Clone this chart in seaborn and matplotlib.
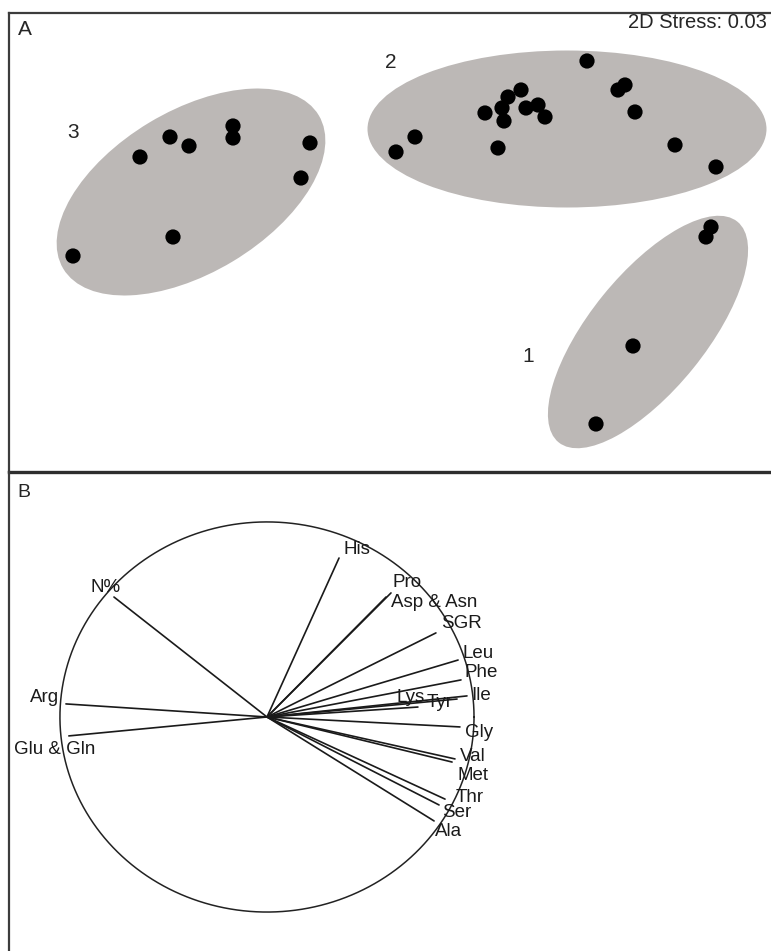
import numpy as np
import pandas as pd
import matplotlib
matplotlib.use("Agg")
import matplotlib.pyplot as plt
from matplotlib.patches import Ellipse
import seaborn as sns

# --- Panel A: nMDS ordination (coordinates) ---
group1_x = [3.16, 3.21, 2.43, 2.06]
group1_y = [0.03, 0.13, -1.06, -1.84]
group2_x = [0.06, 0.25, 0.95, 1.12, 1.14, 1.18, 1.31, 1.36, 1.48, 1.55, 1.08,
            1.97, 2.28, 2.35, 2.45, 2.85, 3.26]
group2_y = [0.88, 1.03, 1.27, 1.32, 1.19, 1.43, 1.50, 1.32, 1.35, 1.23, 0.92,
            1.79, 1.50, 1.55, 1.28, 0.95, 0.73]
group3_x = [-3.17, -2.50, -2.20, -2.01, -1.57, -1.57, -0.80, -0.89, -2.17]
group3_y = [-0.16, 0.83, 1.03, 0.94, 1.14, 1.02, 0.97, 0.62, 0.03]
group_names = ["1", "2", "3"]
stress = 0.03

# cluster ellipses: centre x, centre y, width, height, angle
ell_cx = [2.58, 1.77, -1.99]
ell_cy = [-0.92, 1.11, 0.48]
ell_w = [2.84, 3.99, 2.98]
ell_h = [1.16, 1.57, 1.62]
ell_ang = [51, 0, 31]

# --- Panel B: vector correlations ---
variables = ["His", "N%", "Pro", "Asp & Asn", "SGR", "Leu", "Phe", "Ile", "Lys",
             "Tyr", "Gly", "Val", "Met", "Thr", "Ser", "Ala", "Arg", "Glu & Gln"]
corr1 = [0.348, -0.739, 0.599, 0.575, 0.816, 0.923, 0.937, 0.966, 0.729,
         0.918, 0.932, 0.908, 0.894, 0.860, 0.831, 0.807, -0.971, -0.957]
corr2 = [0.815, 0.615, 0.636, 0.615, 0.431, 0.292, 0.190, 0.108, 0.051,
         0.092, -0.051, -0.215, -0.231, -0.421, -0.451, -0.533, 0.067, -0.097]

sns.set_style("white")
plt.rcParams["font.family"] = ["Liberation Sans", "DejaVu Sans"]

W, H = 771, 951
fig = plt.figure(figsize=(W / 100, H / 100), dpi=100)
frame_col = "#3c3c3c"

# panel A
axA = fig.add_axes([9 / W, (H - 472) / H, 770 / W, 459 / H])
axA.set_xlim(-3.81, 3.89)
axA.set_ylim(-2.32, 2.27)
for cx, cy, w, h, a in zip(ell_cx, ell_cy, ell_w, ell_h, ell_ang):
    axA.add_patch(Ellipse((cx, cy), w, h, angle=a, facecolor="#bcb8b6",
                          edgecolor="none", zorder=1))
pts = pd.DataFrame({
    "x": group1_x + group2_x + group3_x,
    "y": group1_y + group2_y + group3_y,
    "group": ["1"] * len(group1_x) + ["2"] * len(group2_x) + ["3"] * len(group3_x),
})
sns.scatterplot(data=pts, x="x", y="y", color="black", s=120,
                edgecolor="none", legend=False, ax=axA, zorder=3)
for name, (lx, ly) in zip(group_names, [(1.38, -1.16), (0.01, 1.78), (-3.17, 1.08)]):
    axA.text(lx, ly, name, fontsize=15, ha="center", va="center")
axA.text(0.0117, 0.963, "A", transform=axA.transAxes, fontsize=15,
         ha="left", va="center")
axA.text(0.984, 0.98, f"2D Stress: {stress:.2f}", transform=axA.transAxes,
         fontsize=14.5, ha="right", va="center")

# panel B
axB = fig.add_axes([9 / W, (H - 961) / H, 770 / W, 489 / H])
axB.patch.set_visible(False)
axB.set_xlim(-1.246, 2.473)
axB.set_ylim(-1.251, 1.256)
t = np.linspace(0, 2 * np.pi, 400)
axB.plot(np.cos(t), np.sin(t), color="#222222", lw=1.1)
vec = pd.DataFrame({
    "var": np.repeat(variables, 2),
    "x": np.ravel([[0, c] for c in corr1]),
    "y": np.ravel([[0, c] for c in corr2]),
})
sns.lineplot(data=vec, x="x", y="y", units="var", estimator=None, sort=False,
             color="#1a1a1a", lw=1.2, ax=axB)

# label offsets in pixels from each vector tip
offsets = {"His": (4, 9), "N%": (-23, 10), "Pro": (2, 10), "Asp & Asn": (5, -5),
           "SGR": (5, 9), "Leu": (4, 7), "Phe": (4, 7), "Ile": (4, 0),
           "Lys": (-21, 10), "Tyr": (-30, -3), "Gly": (5, -6), "Val": (5, 2),
           "Met": (5, -13), "Thr": (11, 2), "Ser": (3, -8), "Ala": (1, -11),
           "Arg": (-7, 6), "Glu & Gln": (-55, -14)}
for name, c1, c2 in zip(variables, corr1, corr2):
    ha = "right" if name == "Arg" else "left"
    axB.annotate(name, (c1, c2), xytext=offsets[name], textcoords="offset pixels",
                 fontsize=13.5, ha=ha, va="center", color="#1a1a1a")
axB.text(0.0104, 0.959, "B", transform=axB.transAxes, fontsize=14,
         ha="left", va="center")

for ax in (axA, axB):
    ax.set_xticks([])
    ax.set_yticks([])
    ax.set_xlabel("")
    ax.set_ylabel("")
    for s in ax.spines.values():
        s.set_color(frame_col)
        s.set_linewidth(1.6)
    ax.spines["right"].set_visible(False)
axB.spines["top"].set_visible(False)
axB.spines["bottom"].set_visible(False)
axA.spines["bottom"].set_linewidth(2.4)
axA.spines["bottom"].set_color("#2e2e2e")

fig.savefig("out.png", dpi=100)
